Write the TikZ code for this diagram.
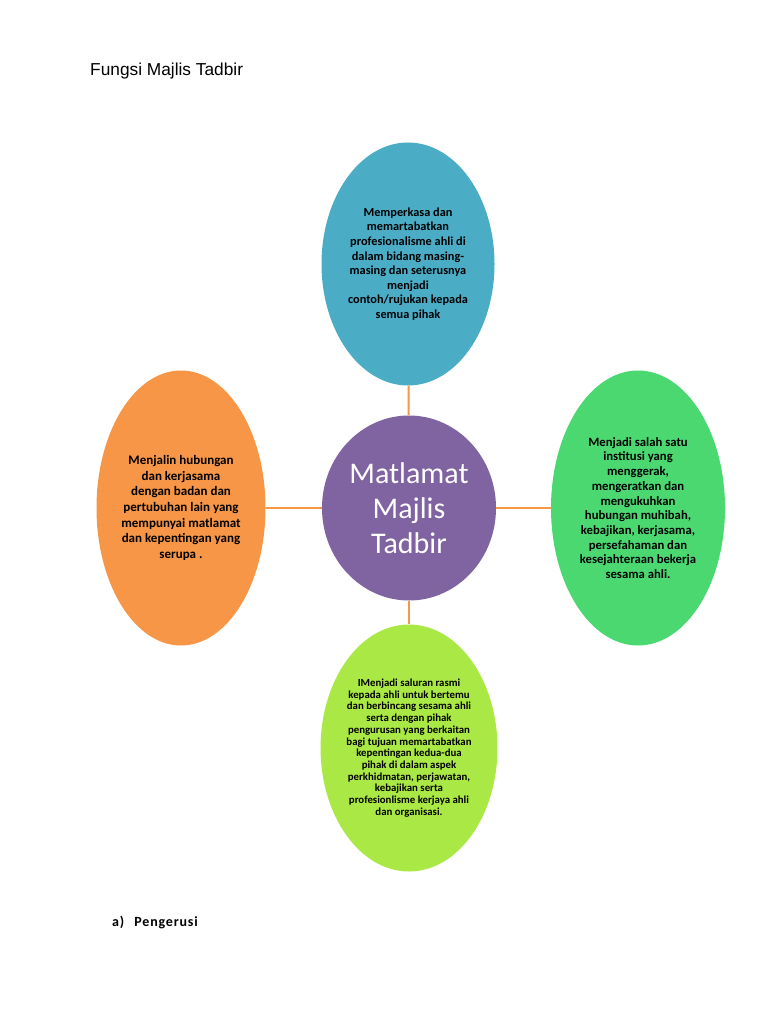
\documentclass[tikz,border=0pt]{standalone}
\usepackage{fontspec}
\setmainfont{Carlito}
\newfontfamily\arialfont{Liberation Sans}
\usetikzlibrary{shapes.geometric}
\definecolor{cblue}{HTML}{4BACC6}
\definecolor{corange}{HTML}{F79646}
\definecolor{cgreen}{HTML}{4CD870}
\definecolor{clime}{HTML}{AAE845}
\definecolor{cpurple}{HTML}{8064A2}
\definecolor{cline}{HTML}{F79646}
\begin{document}
\begin{tikzpicture}[x=1pt,y=-1pt,
  bubble/.style={ellipse,inner sep=0pt,align=center,text=black,font=\bfseries},
  link/.style={draw=cline,line width=2pt}]
\useasboundingbox[fill=white] (0,0) rectangle (768,1024);
\node[anchor=base west,inner sep=0pt,font=\arialfont\fontsize{17.3}{20}\selectfont] (title) at (90,76) {Fungsi Majlis Tadbir};
\node[bubble,fill=cpurple,minimum width=174pt,minimum height=185pt,text=white,font=\fontsize{30}{35}\selectfont] (c) at (409,508) {Matlamat\\Majlis\\Tadbir};
\node[bubble,fill=cblue,minimum width=173pt,minimum height=243pt,font=\bfseries\fontsize{12.3}{14.6}\selectfont] (t) at (408,264) {Memperkasa dan\\memartabatkan\\profesionalisme ahli di\\dalam bidang masing-\\masing dan seterusnya\\menjadi\\contoh/rujukan kepada\\semua pihak};
\node[bubble,fill=corange,minimum width=169pt,minimum height=275pt,font=\bfseries\fontsize{13}{15.7}\selectfont] (l) at (181,508) {Menjalin hubungan\\dan kerjasama\\dengan badan dan\\pertubuhan lain yang\\mempunyai matlamat\\dan kepentingan yang\\serupa .};
\node[bubble,fill=cgreen,minimum width=174pt,minimum height=275pt,font=\bfseries\fontsize{12.7}{14.7}\selectfont] (r) at (638,508) {Menjadi salah satu\\institusi yang\\menggerak,\\mengeratkan dan\\mengukuhkan\\hubungan muhibah,\\kebajikan, kerjasama,\\persefahaman dan\\kesejahteraan bekerja\\sesama ahli.};
\node[bubble,fill=clime,minimum width=174pt,minimum height=247pt,font=\bfseries\fontsize{10.8}{11.7}\selectfont] (b) at (409,748) {IMenjadi saluran rasmi\\kepada ahli untuk bertemu\\dan berbincang sesama ahli\\serta dengan pihak\\pengurusan yang berkaitan\\bagi tujuan memartabatkan\\kepentingan kedua-dua\\pihak di dalam aspek\\perkhidmatan, perjawatan,\\kebajikan serta\\profesionlisme kerjaya ahli\\dan organisasi.};
\draw[link] (t) -- (c);
\draw[link] (l) -- (c);
\draw[link] (r) -- (c);
\draw[link] (b) -- (c);
\node[anchor=base west,inner sep=0pt,font=\bfseries\fontsize{14}{16}\selectfont\addfontfeatures{LetterSpace=6}] (p) at (112,926) {a)\hspace{10pt}Pengerusi};
\end{tikzpicture}
\end{document}
